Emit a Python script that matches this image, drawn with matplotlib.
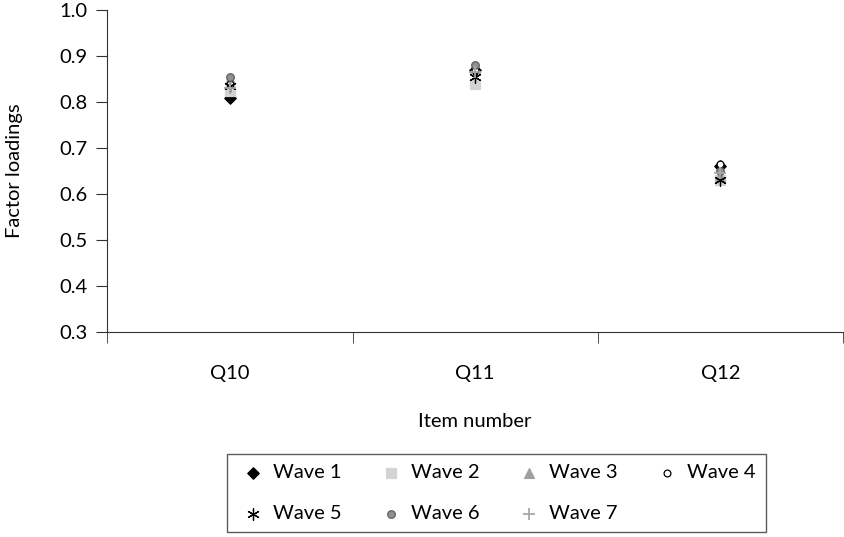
import matplotlib.pyplot as plt
from matplotlib.ticker import FixedLocator

plt.rcParams['font.family'] = ['Lato', 'DejaVu Sans']

items = ['Q10', 'Q11', 'Q12']
waves = ['Wave 1', 'Wave 2', 'Wave 3', 'Wave 4', 'Wave 5', 'Wave 6', 'Wave 7']
loadings = [
    [0.81, 0.87, 0.66],
    [0.825, 0.84, 0.63],
    [0.85, 0.875, 0.64],
    [0.84, 0.87, 0.665],
    [0.835, 0.855, 0.63],
    [0.855, 0.88, 0.65],
    [0.83, 0.865, 0.645],
]
markers = ['D', 's', '^', 'o', (6, 2, 0), 'o', '+']
colors = ['black', '#d3d3d3', '#a0a0a0', 'white', 'black', '#909090', '#a8a8a8']
edges = ['black', '#d3d3d3', '#a0a0a0', 'black', 'black', '#606060', '#a8a8a8']
sizes = [34, 44, 50, 24, 70, 30, 70]

fig = plt.figure(figsize=(8.44, 5.37), dpi=100)
ax = fig.add_axes([0.127, 0.382, 0.872, 0.599])

xs = list(range(len(items)))
handles = []
for i in range(len(waves)):
    h = ax.scatter(xs, loadings[i], marker=markers[i], c=colors[i], edgecolors=edges[i],
                   s=sizes[i], linewidths=1.3 if markers[i] == '+' else 0.9,
                   label=waves[i], zorder=3)
    handles.append(h)

ax.set_ylim(0.3, 1.0)
ax.set_yticks([0.3, 0.4, 0.5, 0.6, 0.7, 0.8, 0.9, 1.0])
ax.set_yticklabels(['0.3', '0.4', '0.5', '0.6', '0.7', '0.8', '0.9', '1.0'])
ax.set_xlim(-0.5, 2.5)
ax.set_xticks(xs)
ax.set_xticklabels(items)
ax.xaxis.set_minor_locator(FixedLocator([-0.5, 0.5, 1.5, 2.5]))
ax.tick_params(axis='x', which='major', length=0, pad=24, labelsize=14.5)
ax.tick_params(axis='x', which='minor', length=8, direction='out', color='#333333')
ax.tick_params(axis='y', length=8, pad=6, labelsize=14.5, color='#333333')
for s in ['top', 'right']:
    ax.spines[s].set_visible(False)
for s in ['left', 'bottom']:
    ax.spines[s].set_color('#333333')

ax.set_xlabel('Item number', fontsize=14.5, labelpad=22)
ax.set_ylabel('Factor loadings', fontsize=14.5, labelpad=26)

# legend filled row by row like the original
order = [0, 4, 1, 5, 2, 6, 3]
fig.legend([handles[k] for k in order], [waves[k] for k in order],
           loc='center', bbox_to_anchor=(0.588, 0.082), ncol=4, fontsize=14.5,
           frameon=True, fancybox=False, edgecolor='#333333', columnspacing=1.65,
           handletextpad=0.2, borderpad=0.5, labelspacing=1.2, handlelength=1.6)

fig.savefig('out.png', dpi=100)
